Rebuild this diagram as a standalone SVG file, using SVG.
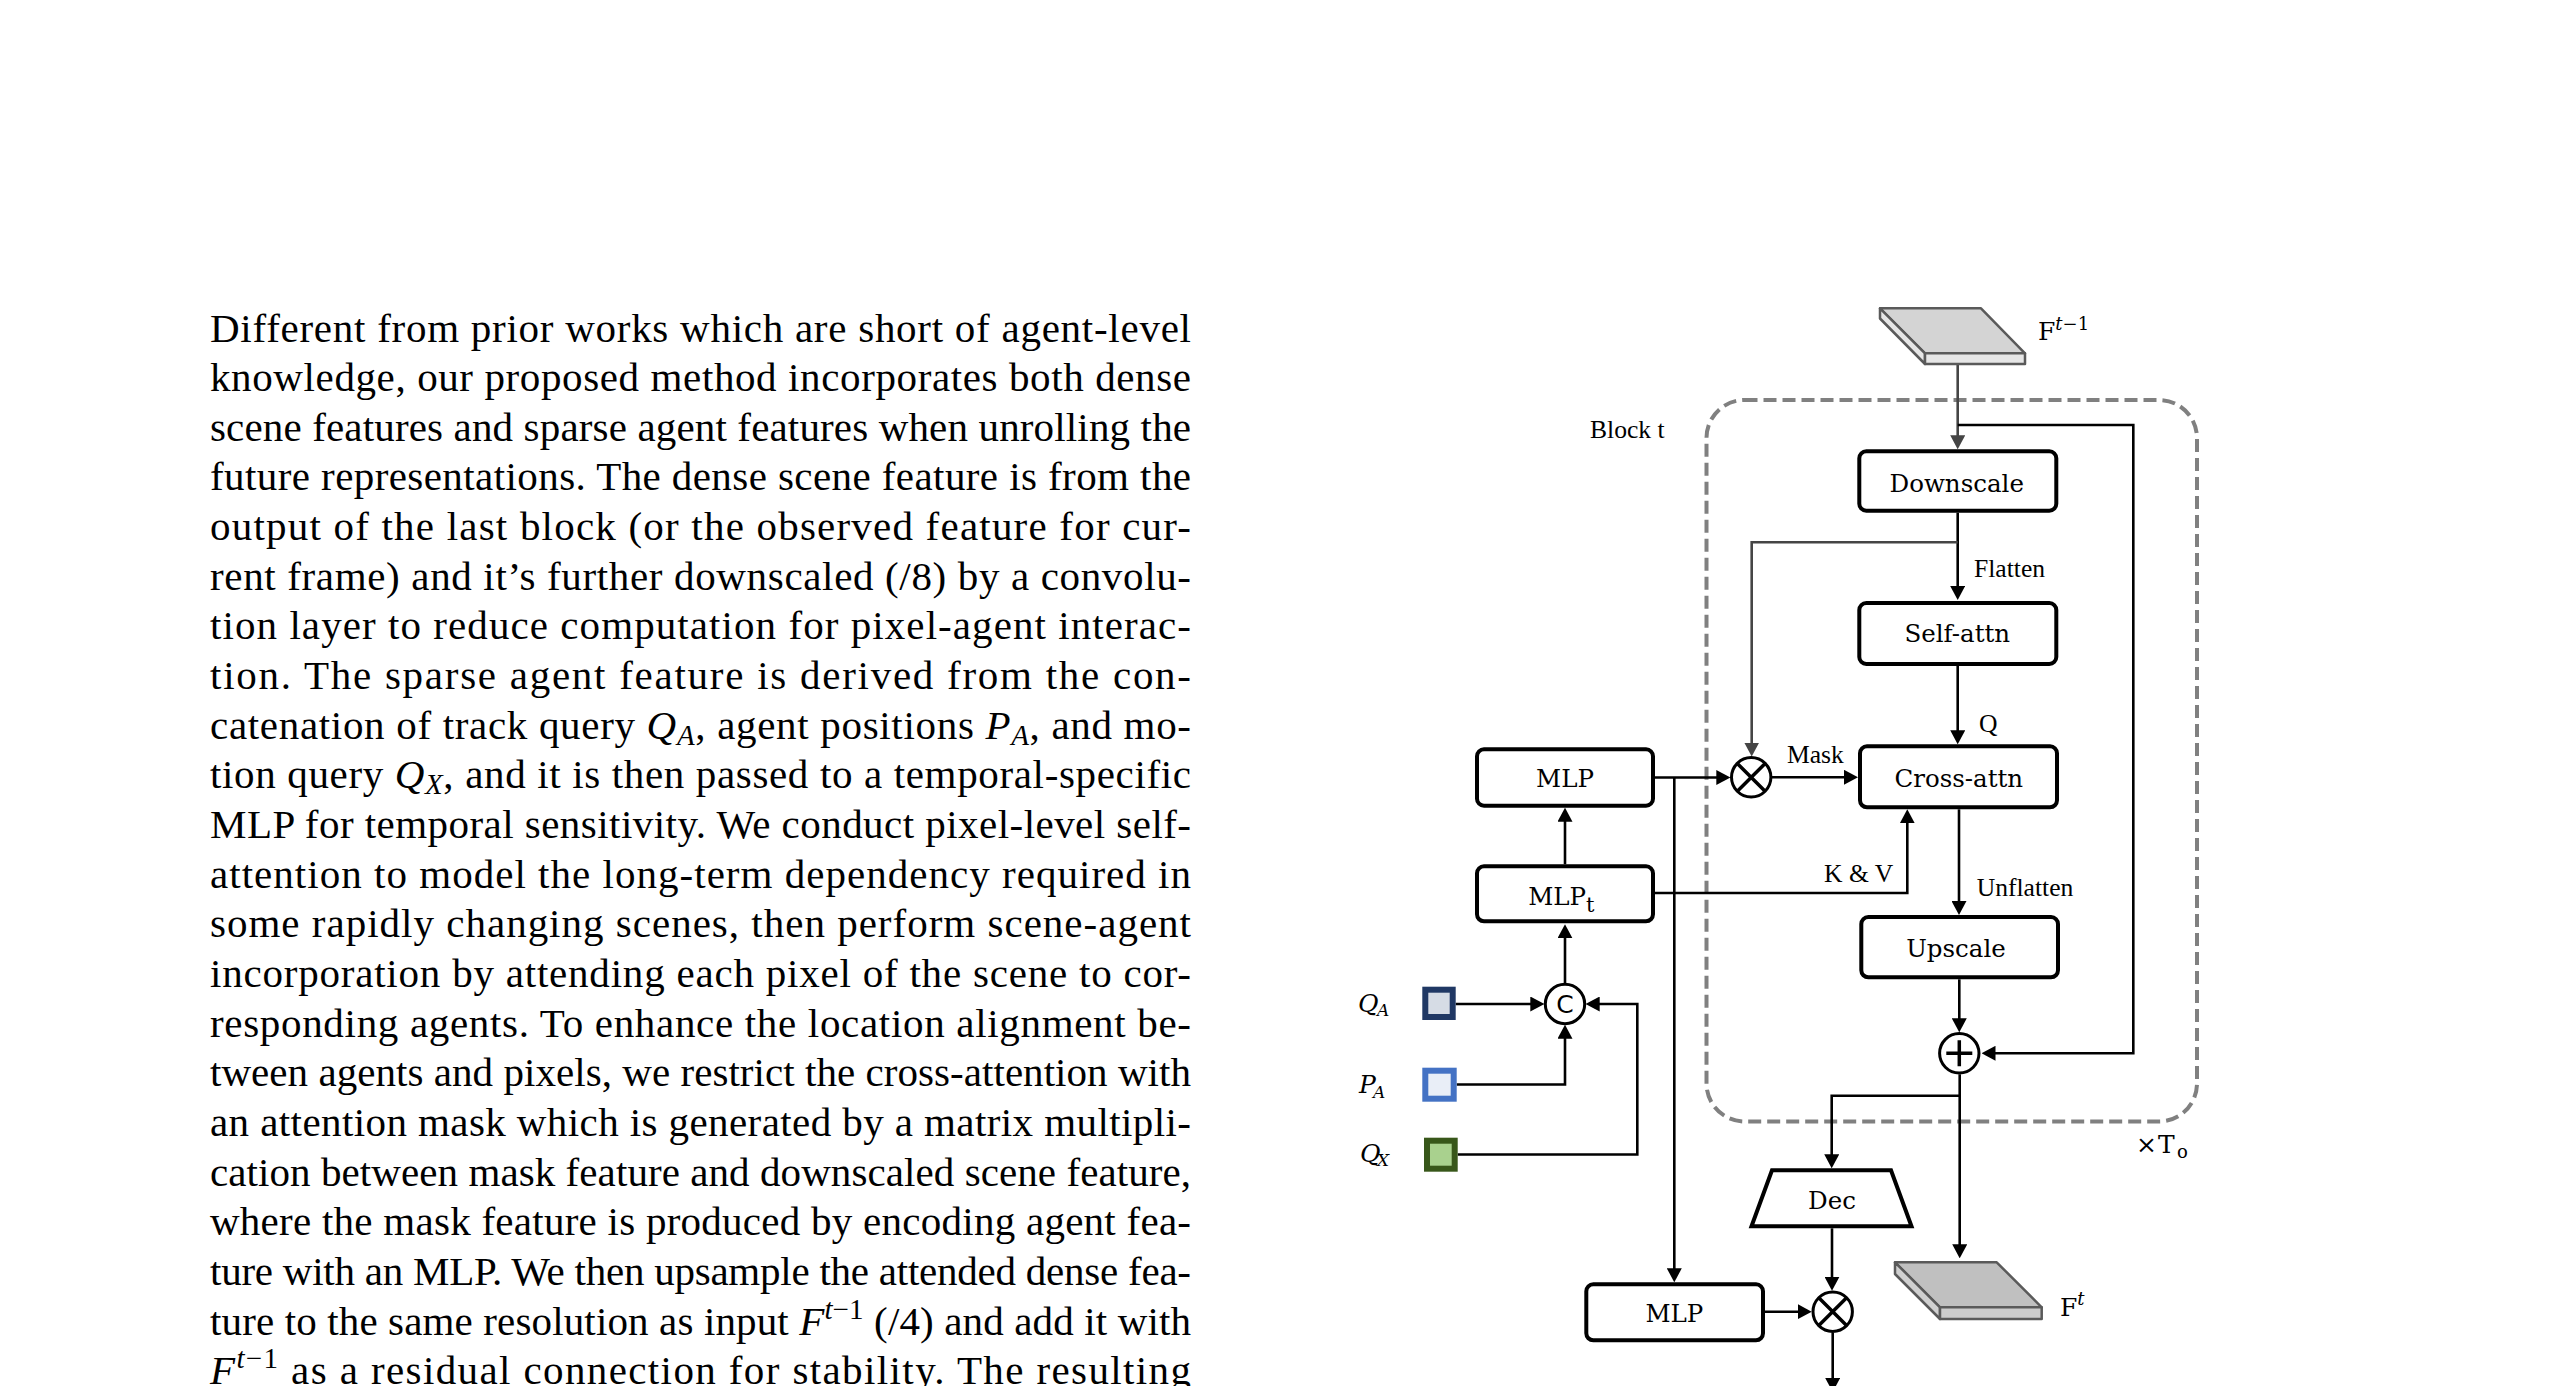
<svg xmlns="http://www.w3.org/2000/svg" width="2550" height="1386" viewBox="0 0 2550 1386">
<style>
.body{font-family:"Liberation Serif","Times New Roman",serif;font-size:41px;fill:#000}
.it{font-style:italic}
.lbl{font-family:"Liberation Serif","Times New Roman",serif;font-size:25.6px;fill:#000}
.box{font-family:"DejaVu Serif",serif;font-size:24.5px;fill:#000;text-anchor:middle}
.cam{font-family:"DejaVu Serif",serif;font-size:25px;fill:#000}
.node{fill:#fff;stroke:#000;stroke-width:4}
.op{fill:#fff;stroke:#000;stroke-width:3}
.opl{stroke:#000;stroke-width:3.5;fill:none}
.ca{fill:none;stroke:#000;stroke-width:2.6;marker-end:url(#ah)}
.ga{fill:none;stroke:#454545;stroke-width:2.6;marker-end:url(#ahg)}
.slab{stroke:#5a5a5a;stroke-width:2.5;stroke-linejoin:round}
</style>
<defs>
<marker id="ah" viewBox="0 0 14 15" refX="8" refY="7.5" markerWidth="14" markerHeight="15" markerUnits="userSpaceOnUse" orient="auto"><path d="M0,0 L14,7.5 L0,15 z" fill="#000"/></marker>
<marker id="ahg" viewBox="0 0 14 15" refX="8" refY="7.5" markerWidth="14" markerHeight="15" markerUnits="userSpaceOnUse" orient="auto"><path d="M0,0 L14,7.5 L0,15 z" fill="#454545"/></marker>
</defs>
<rect width="2550" height="1386" fill="#fff"/>

<g id="paragraph">
<text class="body" x="210" y="341.5" textLength="981" lengthAdjust="spacing">Different from prior works which are short of agent-level</text>
<text class="body" x="210" y="391.15" textLength="981" lengthAdjust="spacing">knowledge, our proposed method incorporates both dense</text>
<text class="body" x="210" y="440.8" textLength="981" lengthAdjust="spacing">scene features and sparse agent features when unrolling the</text>
<text class="body" x="210" y="490.45" textLength="981" lengthAdjust="spacing">future representations. The dense scene feature is from the</text>
<text class="body" x="210" y="540.1" textLength="981" lengthAdjust="spacing">output of the last block (or the observed feature for cur-</text>
<text class="body" x="210" y="589.75" textLength="981" lengthAdjust="spacing">rent frame) and it’s further downscaled (/8) by a convolu-</text>
<text class="body" x="210" y="639.4" textLength="981" lengthAdjust="spacing">tion layer to reduce computation for pixel-agent interac-</text>
<text class="body" x="210" y="689.05" textLength="981" lengthAdjust="spacing">tion.  The sparse agent feature is derived from the con-</text>
<text class="body" x="210" y="738.7" textLength="981" lengthAdjust="spacing">catenation of track query <tspan class="it">Q</tspan><tspan class="it" font-size="29" dy="6">A</tspan><tspan dy="-6">, agent positions </tspan><tspan class="it">P</tspan><tspan class="it" font-size="29" dy="6">A</tspan><tspan dy="-6">, and mo-</tspan></text>
<text class="body" x="210" y="788.35" textLength="981" lengthAdjust="spacing">tion query <tspan class="it">Q</tspan><tspan class="it" font-size="29" dy="6">X</tspan><tspan dy="-6">, and it is then passed to a temporal-specific</tspan></text>
<text class="body" x="210" y="838" textLength="981" lengthAdjust="spacing">MLP for temporal sensitivity. We conduct pixel-level self-</text>
<text class="body" x="210" y="887.65" textLength="981" lengthAdjust="spacing">attention to model the long-term dependency required in</text>
<text class="body" x="210" y="937.3" textLength="981" lengthAdjust="spacing">some rapidly changing scenes, then perform scene-agent</text>
<text class="body" x="210" y="986.95" textLength="981" lengthAdjust="spacing">incorporation by attending each pixel of the scene to cor-</text>
<text class="body" x="210" y="1036.6" textLength="981" lengthAdjust="spacing">responding agents. To enhance the location alignment be-</text>
<text class="body" x="210" y="1086.25" textLength="981" lengthAdjust="spacing">tween agents and pixels, we restrict the cross-attention with</text>
<text class="body" x="210" y="1135.9" textLength="981" lengthAdjust="spacing">an attention mask which is generated by a matrix multipli-</text>
<text class="body" x="210" y="1185.55" textLength="981" lengthAdjust="spacing">cation between mask feature and downscaled scene feature,</text>
<text class="body" x="210" y="1235.2" textLength="981" lengthAdjust="spacing">where the mask feature is produced by encoding agent fea-</text>
<text class="body" x="210" y="1284.85" textLength="981" lengthAdjust="spacing">ture with an MLP. We then upsample the attended dense fea-</text>
<text class="body" x="210" y="1334.5" textLength="981" lengthAdjust="spacing">ture to the same resolution as input <tspan class="it">F</tspan><tspan font-size="29" dy="-16"><tspan class="it">t</tspan>−1</tspan><tspan dy="16"> (/4) and add it with</tspan></text>
<text class="body" x="210" y="1384.15" textLength="981" lengthAdjust="spacing"><tspan class="it">F</tspan><tspan font-size="29" dy="-16"><tspan class="it">t</tspan>−1</tspan><tspan dy="16"> as a residual connection for stability. The resulting</tspan></text>
</g>

<g id="block-frame">
<rect x="1706.5" y="400" width="490.5" height="721.5" rx="38" fill="none" stroke="#808080" stroke-width="4" stroke-dasharray="13 6"/>
<text class="lbl" x="1590" y="437.7" font-size="28">Block t</text>
<text class="cam" y="1153"><tspan x="2136" font-size="25">×</tspan><tspan x="2158">T</tspan><tspan x="2177" dy="5" font-size="18">o</tspan></text>
</g>

<g id="connectors">
<path class="ga" d="M1957.7,364 V443.3"/>
<path class="ca" d="M1957.7,425 H2133.3 V1053.3 H1987.5"/>
<path class="ca" d="M1957.7,512.7 V594"/>
<path class="ga" d="M1957.7,542.3 H1751.7 V750.5"/>
<path class="ca" d="M1957.7,666 V738.3"/>
<path class="ca" d="M1772,777.3 H1852"/>
<path class="ca" d="M1655,777.5 H1724.3"/>
<path class="ca" d="M1674.3,777.5 V1276.3"/>
<path class="ca" d="M1655,893 H1907.3 V815.3"/>
<path class="ca" d="M1959,809.3 V909"/>
<path class="ca" d="M1959.3,979.3 V1026.3"/>
<path class="ca" d="M1959.7,1074.3 V1252.3"/>
<path class="ca" d="M1959.7,1095.7 H1831.7 V1162.3"/>
<path class="ca" d="M1832,1228.3 V1284.7"/>
<path class="ca" d="M1765,1311.7 H1805.7"/>
<path class="ca" d="M1832.7,1332.7 V1386"/>
<path class="ca" d="M1565,983.3 V930.3"/>
<path class="ca" d="M1565,864.3 V813.7"/>
<path class="ca" d="M1455.7,1004 H1538.3"/>
<path class="ca" d="M1456.7,1084.5 H1565 V1030.7"/>
<path class="ca" d="M1457.7,1154.5 H1637.3 V1004 H1591.7"/>
<text class="lbl" x="1974" y="576.7">Flatten</text>
<text class="lbl" x="1979" y="731.7" font-size="24.5">Q</text>
<text class="lbl" x="1787" y="763.3">Mask</text>
<text class="lbl" x="1824" y="881.7">K &amp; V</text>
<text class="lbl" x="1976.7" y="896">Unflatten</text>
</g>

<g id="f-prev">
<polygon class="slab" fill="#d4d4d4" points="1880,308.3 1981,308.3 2025,353.3 1925,353.3"/>
<polygon class="slab" fill="#e6e6e6" points="1880,308.3 1925,353.3 1925,364 1880,318.5"/>
<polygon class="slab" fill="#e6e6e6" points="1925,353.3 2025,353.3 2025,364 1925,364"/>
<text class="cam" x="2038" y="340">F<tspan font-size="18" dy="-10"><tspan font-style="italic">t</tspan>−1</tspan></text>
</g>

<g id="downscale">
<rect class="node" x="1859.3" y="451.3" width="197" height="59.4" rx="7"/>
<text class="box" x="1956.7" y="491.7">Downscale</text>
</g>
<g id="self-attn">
<rect class="node" x="1859.3" y="603" width="197" height="61" rx="7"/>
<text class="box" x="1957.3" y="641.7">Self-attn</text>
</g>
<g id="cross-attn">
<rect class="node" x="1860" y="746.3" width="197" height="61" rx="7"/>
<text class="box" x="1958.8" y="786.7">Cross-attn</text>
</g>
<g id="upscale">
<rect class="node" x="1861.3" y="917" width="196.7" height="60.3" rx="7"/>
<text class="box" x="1956" y="957.3">Upscale</text>
</g>
<g id="mask-mul">
<circle class="op" cx="1751.2" cy="777.3" r="19.7"/>
<path class="opl" d="M1737.3,763.4 L1765.1,791.2 M1765.1,763.4 L1737.3,791.2"/>
</g>
<g id="residual-add">
<circle class="op" cx="1959.3" cy="1053.3" r="19.7"/>
<path class="opl" d="M1946.3,1053.3 H1972.3 M1959.3,1040.3 V1066.3" stroke-width="4"/>
</g>
<g id="mlp-top">
<rect class="node" x="1477" y="749.3" width="176" height="56.4" rx="7"/>
<text class="box" x="1565" y="786.7">MLP</text>
</g>
<g id="mlp-t">
<rect class="node" x="1477" y="866.3" width="176" height="55" rx="7"/>
<text class="box" x="1561.3" y="905">MLP<tspan font-size="21" dy="6.5">t</tspan></text>
</g>
<g id="concat">
<circle class="op" cx="1565" cy="1004" r="19.7"/>
<text x="1565" y="1013" font-family="DejaVu Sans,sans-serif" font-size="25" text-anchor="middle">C</text>
</g>
<g id="q-a">
<rect x="1425.3" y="989.7" width="27.4" height="27.3" fill="#d6dce5" stroke="#203864" stroke-width="6"/>
<text class="cam" y="1011.7" font-style="italic" font-size="24"><tspan x="1358">Q</tspan><tspan x="1377" dy="4.5" font-size="17">A</tspan></text>
</g>
<g id="p-a">
<rect x="1425.3" y="1070.7" width="28.4" height="28" fill="#e9eef7" stroke="#4472c4" stroke-width="6"/>
<text class="cam" y="1093.3" font-style="italic" font-size="24"><tspan x="1359">P</tspan><tspan x="1373" dy="5" font-size="17">A</tspan></text>
</g>
<g id="q-x">
<rect x="1427" y="1140.7" width="27.7" height="28" fill="#a9d18e" stroke="#38571a" stroke-width="6"/>
<text class="cam" y="1161.7" font-style="italic" font-size="24"><tspan x="1360">Q</tspan><tspan x="1377" dy="4" font-size="17">X</tspan></text>
</g>
<g id="dec">
<polygon class="node" points="1772,1170.3 1891,1170.3 1911.5,1226.3 1751.5,1226.3"/>
<text class="box" x="1832" y="1209.3">Dec</text>
</g>
<g id="f-t">
<polygon class="slab" fill="#c0c0c0" points="1895,1262.3 1996.7,1262.3 2041.7,1307.3 1940,1307.3"/>
<polygon class="slab" fill="#d0d0d0" points="1895,1262.3 1940,1307.3 1940,1319 1895,1274"/>
<polygon class="slab" fill="#cccccc" points="1940,1307.3 2041.7,1307.3 2041.7,1319 1940,1319"/>
<text class="cam" x="2060" y="1316">F<tspan font-size="18" dy="-11" font-style="italic">t</tspan></text>
</g>
<g id="mlp-bottom">
<rect class="node" x="1586.3" y="1284.3" width="176.7" height="56" rx="7"/>
<text class="box" x="1674.3" y="1321.7">MLP</text>
</g>
<g id="out-mul">
<circle class="op" cx="1832.7" cy="1311.7" r="19.7"/>
<path class="opl" d="M1818.8,1297.8 L1846.6,1325.6 M1846.6,1297.8 L1818.8,1325.6"/>
</g>
</svg>
